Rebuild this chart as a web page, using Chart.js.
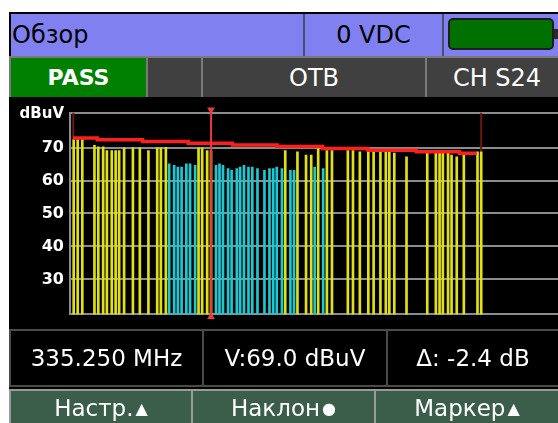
<!DOCTYPE html>
<html lang="ru">
<head>
<meta charset="utf-8">
<title>Обзор</title>
<script src="https://cdn.jsdelivr.net/npm/chart.js@4.4.1/dist/chart.umd.min.js"></script>
<style>
  html, body { margin: 0; padding: 0; background: #fff; width: 558px; height: 423px; overflow: hidden; font-family: "DejaVu Sans", sans-serif; }
  .box { position: absolute; box-sizing: border-box; }
  .txt { display: flex; align-items: center; justify-content: center; white-space: nowrap; }
  #screen { left: 9px; top: 12px; width: 560px; height: 420px; background: #000; }
  #hdr1 { left: 11px; top: 14px; width: 560px; height: 42px; background: #8080f0; }
  .vline1 { top: 14px; width: 2px; height: 42px; background: #4c4c70; }
  #hdr2 { left: 9px; top: 56px; width: 560px; height: 41px; background: #7a7a7a; }
  .cell2 { top: 58px; height: 39px; background: #404040; color: #fff; font-size: 24px; }
  #batt { left: 448px; top: 18px; width: 106px; height: 32px; background: #007000; border: 2px solid #1e1e1e; border-radius: 5px; }
  #nub { left: 554px; top: 29px; width: 5px; height: 10px; background: #2a2a2a; }
  #grafico { left: 9px; top: 97px; width: 560px; height: 233px; }
  #unidade { left: 10px; top: 104px; width: 54px; height: 17px; color: #fff; font-weight: bold; font-size: 15px; justify-content: flex-end; }
  #info { left: 9px; top: 329px; width: 560px; height: 58px; background: #4a4a4a; }
  .cell3 { top: 331px; height: 54px; background: #000; color: #fff; font-size: 23px; }
  #botoes { left: 9px; top: 389px; width: 560px; height: 40px; background: #9a9a9a; }
  .btn { top: 391px; height: 40px; background: #3b5e4b; color: #fff; font-size: 23px; padding-bottom: 6px; }
  .ico { font-size: 16px; margin-left: 2px; }
</style>
</head>
<body>
<div class="box" id="screen"></div>

<div class="box" id="hdr1"></div>
<div class="box txt" style="left:12px; top:14px; height:42px; font-size:24px; color:#000;">Обзор</div>
<div class="box vline1" style="left:303px;"></div>
<div class="box txt" style="left:305px; top:14px; width:137px; height:42px; font-size:24px; color:#000;">0 VDC</div>
<div class="box vline1" style="left:442px;"></div>
<div class="box" id="batt"></div>
<div class="box" id="nub"></div>

<div class="box" id="hdr2"></div>
<div class="box txt cell2" style="left:11px; width:135px; background:#008000; font-weight:bold; font-size:22px;">PASS</div>
<div class="box cell2" style="left:148px; width:53px;"></div>
<div class="box txt cell2" style="left:203px; width:222px;">OTB</div>
<div class="box txt cell2" style="left:427px; width:140px;">CH S24</div>

<div class="box" id="grafico"><canvas id="espectro"></canvas></div>
<div class="box txt" id="unidade">dBuV</div>

<div class="box" id="info"></div>
<div class="box txt cell3" style="left:11px; width:191px;">335.250 MHz</div>
<div class="box txt cell3" style="left:204px; width:182px;">V:69.0 dBuV</div>
<div class="box txt cell3" style="left:388px; width:170px;">Δ: -2.4 dB</div>

<div class="box" id="botoes"></div>
<div class="box txt btn" style="left:11px; width:180px;">Настр.<span class="ico">▲</span></div>
<div class="box txt btn" style="left:193px; width:181px;">Наклон<span class="ico">●</span></div>
<div class="box txt btn" style="left:376px; width:182px;">Маркер<span class="ico">▲</span></div>

<script>
// analog carriers (yellow)
const analogFreq = [73.0, 80.7, 89.5, 112.7, 120.0, 129.3, 136.4, 145.7, 153.1, 159.8,
  169.3, 186.1, 199.3, 215.7, 232.5, 239.5, 249.0, 311.4, 318.3, 327.8,
  335.25, 476.9, 500.2, 516.6, 526.5, 539.8, 556.4, 566.1, 596.4, 606.2,
  619.3, 635.5, 645.6, 658.6, 668.9, 675.6, 685.1, 708.4, 748.0, 764.4,
  771.5, 777.8, 787.7, 794.4, 804.3, 817.8, 843.9, 851.0];
const analogLevel = [72.4, 72.4, 72.4, 70.7, 70.2, 70.2, 69.1, 69.1, 69.1, 69.1,
  69.9, 69.9, 69.9, 69.1, 69.9, 69.9, 70.1, 69.9, 69.9, 69.1,
  69.0, 69.1, 68.7, 67.7, 67.7, 69.8, 69.1, 69.1, 69.1, 69.1,
  68.7, 68.8, 68.8, 68.8, 68.8, 68.8, 68.3, 67.2, 68.3, 68.3,
  68.3, 68.3, 68.3, 67.7, 67.2, 67.7, 68.7, 68.7];

// digital channels (cyan)
const digitalFreq = [255.3, 264.9, 271.9, 279.0, 288.1, 295.2, 304.9, 344.8, 351.4, 358.1,
  367.8, 374.5, 384.4, 390.7, 398.1, 406.7, 414.0, 423.9, 437.2, 446.8,
  454.0, 460.7, 470.6, 486.8, 493.7, 533.1, 549.3];
const digitalLevel = [65.1, 64.6, 64.1, 64.1, 65.1, 65.1, 64.6, 64.6, 65.1, 64.6,
  63.6, 63.1, 63.6, 64.1, 64.6, 64.1, 64.1, 63.6, 63.1, 63.6,
  63.6, 64.1, 63.6, 63.1, 63.1, 64.1, 63.6];

// tilt line (red)
const tiltFreq = [71.7, 118.1, 204.6, 291.6, 376.2, 461.3, 547.8, 634.8, 727.0, 809.6, 842.6];
const tiltLevel = [72.9, 72.35, 71.8, 71.3, 70.8, 70.3, 69.7, 69.2, 68.7, 68.3, 68.3];

const levelTicks = [30, 40, 50, 60, 70];
const markerFreq = 335.25;
const spanFreq = [72.3, 850.9];
const spanLevel = [72.9, 68.7];

const yMin = 19.4, yMax = 80.6;
const xMin = 66, xMax = 1010;

function pontos(xs, ys) {
  return xs.map((x, i) => ({ x: x, y: ys[i] }));
}

function linhaVertical(x, y1, y2) {
  return [{ x: x, y: y1 }, { x: x, y: y2 }];
}

new Chart(document.getElementById("espectro"), {
  type: "bar",
  data: {
    datasets: [
      {
        type: "line",
        data: linhaVertical(markerFreq, 81.5, 18.7),
        borderColor: "#e83a3a",
        borderWidth: 2,
        pointStyle: "triangle",
        pointRadius: 4.5,
        pointRotation: [180, 0],
        pointBackgroundColor: "#e83a3a",
        pointBorderWidth: 0,
        clip: false,
        order: 0
      },
      {
        type: "line",
        data: pontos(tiltFreq, tiltLevel),
        stepped: "before",
        borderColor: "#ff1e1e",
        borderWidth: 3.5,
        pointRadius: 0,
        order: 1
      },
      {
        data: pontos(analogFreq, analogLevel),
        backgroundColor: "#e0e012",
        barThickness: 2,
        grouped: false,
        order: 3
      },
      {
        data: pontos(digitalFreq, digitalLevel),
        backgroundColor: "#1ec8d2",
        barThickness: 2,
        grouped: false,
        order: 3
      },
      {
        type: "line",
        data: linhaVertical(spanFreq[0], yMax, spanLevel[0]),
        borderColor: "#6e1616",
        borderWidth: 2,
        pointRadius: 0,
        order: 4
      },
      {
        type: "line",
        data: linhaVertical(spanFreq[1], yMax, spanLevel[1]),
        borderColor: "#6e1616",
        borderWidth: 2,
        pointRadius: 0,
        order: 4
      }
    ]
  },
  options: {
    responsive: true,
    maintainAspectRatio: false,
    animation: false,
    layout: { padding: { top: 8, bottom: 15, right: 4, left: 0 } },
    plugins: { legend: { display: false }, tooltip: { enabled: false } },
    scales: {
      x: {
        type: "linear",
        min: xMin,
        max: xMax,
        offset: false,
        display: false
      },
      y: {
        min: yMin,
        max: yMax,
        beginAtZero: false,
        afterBuildTicks: (scale) => {
          scale.ticks = [yMin].concat(levelTicks, [yMax]).map(v => ({ value: v }));
        },
        afterFit: (scale) => { scale.width = 61; },
        grid: { color: "#8c8c8c", lineWidth: 2, drawTicks: false },
        border: { display: true, color: "#8c8c8c", width: 2 },
        ticks: {
          color: "#fff",
          padding: 6,
          font: { family: "DejaVu Sans", weight: "bold", size: 16 },
          callback: (v) => levelTicks.includes(v) ? String(v) : ""
        }
      }
    }
  }
});
</script>
</body>
</html>
